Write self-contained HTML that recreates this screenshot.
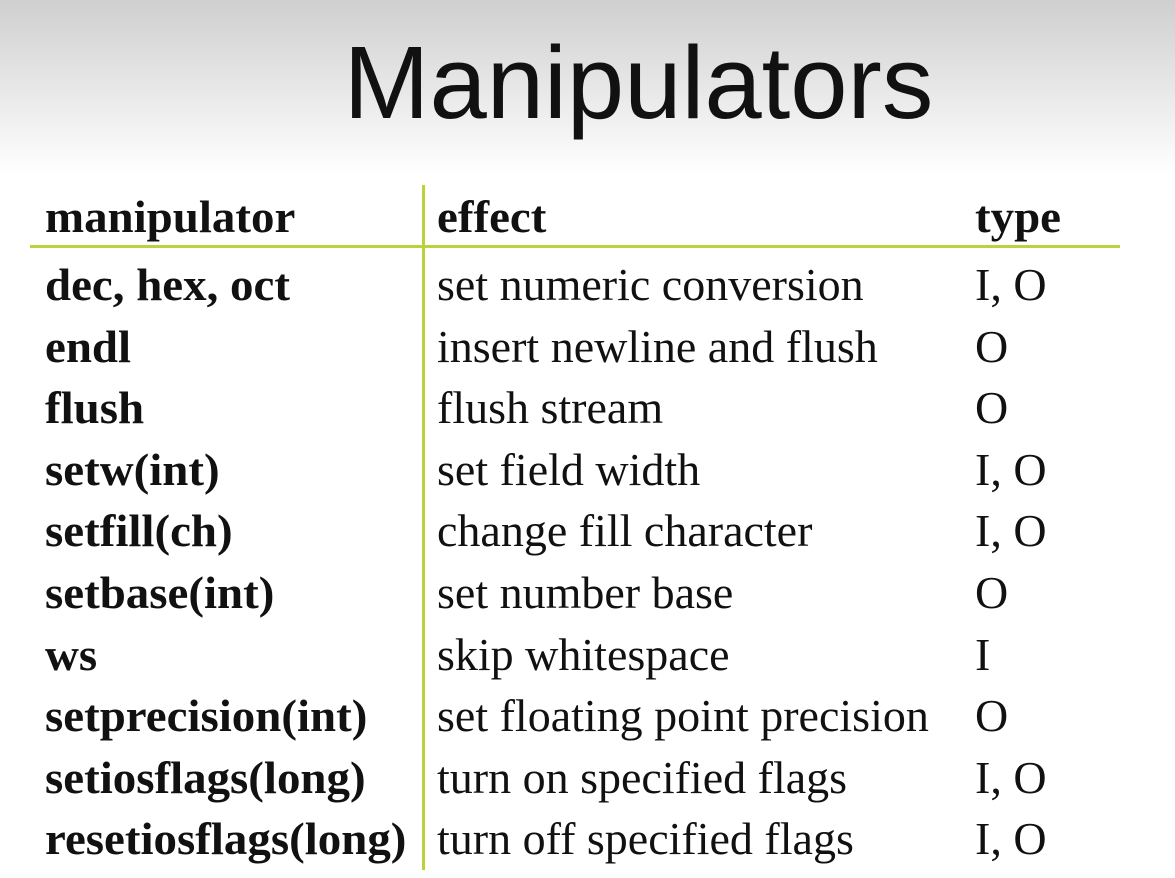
<!DOCTYPE html>
<html><head><meta charset="utf-8"><style>
body{margin:0;width:1175px;height:878px;overflow:hidden;background:linear-gradient(#cfcfcf 0px,#f0f0f0 120px,#fff 175px,#fff 878px);font-family:"Liberation Serif",serif;position:relative}
.t{position:absolute;white-space:nowrap;font-size:46px;line-height:46px;color:#111;transform-origin:0 0}
.b{font-weight:bold;transform:scaleX(1.02)}
#title{position:absolute;left:0;width:1175px;text-align:center;top:30px;font-family:"Liberation Sans",sans-serif;font-size:103px;line-height:106px;color:#111;padding-left:102px;box-sizing:border-box}
</style></head><body>
<div id="title">Manipulators</div>
<div style="position:absolute;left:30px;top:245px;width:1090px;height:3px;background:#b8d43a"></div>
<div style="position:absolute;left:422px;top:185px;width:3px;height:685px;background:#b8d43a"></div>
<div id="tbl"></div>
<script>
const rows=[["manipulator","effect","type"],["dec, hex, oct","set numeric conversion","I, O"],["endl","insert newline and flush","O"],["flush","flush stream","O"],["setw(int)","set field width","I, O"],["setfill(ch)","change fill character","I, O"],["setbase(int)","set number base","O"],["ws","skip whitespace","I"],["setprecision(int)","set floating point precision","O"],["setiosflags(long)","turn on specified flags","I, O"],["resetiosflags(long)","turn off specified flags","I, O"]];
const xs=[45,437,975];
const tbl=document.getElementById('tbl');
rows.forEach((r,i)=>{
 const top=i==0?194:(262+(i-1)*61.6);
 r.forEach((c,j)=>{
  const d=document.createElement('div');
  d.className='t'+((i==0||j==0)?' b':'');
  d.style.left=xs[j]+'px';d.style.top=top+'px';
  d.textContent=c;
  
  
  tbl.appendChild(d);
 });
});
</script>
</body></html>
